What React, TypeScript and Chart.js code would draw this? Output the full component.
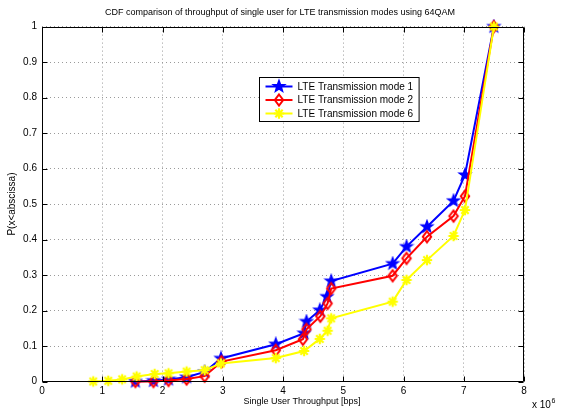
import React, { useEffect, useRef } from 'react';
import { Chart, registerables } from 'chart.js';

Chart.register(...registerables);

const FONT = '"Liberation Sans", Arial, Helvetica, sans-serif';

const titleText = 'CDF comparison of throughput of single user for LTE transmission modes using 64QAM';
const xAxisTitle = 'Single User Throughput [bps]';
const yAxisTitle = 'P(x<abscissa)';
const xScaleNote = 'x 10';
const xScaleExp = '6';
const seriesNames = ['LTE Transmission mode 1', 'LTE Transmission mode 2', 'LTE Transmission mode 6'];
const seriesColors = ['#0000ff', '#ff0000', '#ffff00'];

const xTickLabels = ['0', '1', '2', '3', '4', '5', '6', '7', '8'];
const yTickLabels = ['0', '0.1', '0.2', '0.3', '0.4', '0.5', '0.6', '0.7', '0.8', '0.9', '1'];

// throughput in units of 10^6 bps
const mode1X = [1.55, 1.85, 2.1, 2.4, 2.7, 2.97, 3.88, 4.35, 4.39, 4.61, 4.73, 4.8, 5.82, 6.05, 6.39, 6.83, 7.02, 7.5];
const mode1Y = [0, 0.002, 0.006, 0.012, 0.027, 0.065, 0.105, 0.136, 0.169, 0.201, 0.239, 0.283, 0.332, 0.38, 0.436, 0.509, 0.582, 1];

const mode2X = [1.55, 1.85, 2.1, 2.4, 2.7, 2.98, 3.88, 4.33, 4.39, 4.62, 4.74, 4.8, 5.82, 6.05, 6.39, 6.83, 7.02, 7.5];
const mode2Y = [0, 0, 0.003, 0.007, 0.015, 0.056, 0.088, 0.119, 0.147, 0.184, 0.22, 0.262, 0.298, 0.347, 0.408, 0.466, 0.522, 1];

const mode6X = [0.85, 1.1, 1.33, 1.57, 1.87, 2.1, 2.4, 2.7, 2.97, 3.88, 4.35, 4.61, 4.74, 4.8, 5.82, 6.05, 6.39, 6.83, 7.02, 7.5];
const mode6Y = [0, 0.002, 0.006, 0.014, 0.021, 0.023, 0.028, 0.032, 0.051, 0.066, 0.086, 0.12, 0.143, 0.178, 0.225, 0.286, 0.342, 0.41, 0.483, 1];

type Painter = (g: CanvasRenderingContext2D, cx: number, cy: number) => void;

const paintStar: Painter = (g, cx, cy) => {
  const R = 6;
  const r = 2.5;
  g.beginPath();
  for (let i = 0; i < 10; i++) {
    const ang = -Math.PI / 2 + (i * Math.PI) / 5;
    const rad = i % 2 === 0 ? R : r;
    const px = cx + rad * Math.cos(ang);
    const py = cy + rad * Math.sin(ang);
    if (i === 0) g.moveTo(px, py);
    else g.lineTo(px, py);
  }
  g.closePath();
  g.fillStyle = seriesColors[0];
  g.fill();
  g.strokeStyle = seriesColors[0];
  g.lineWidth = 1.5;
  g.lineJoin = 'miter';
  g.stroke();
};

const paintDiamond: Painter = (g, cx, cy) => {
  g.beginPath();
  g.moveTo(cx, cy - 5.5);
  g.lineTo(cx + 4.2, cy);
  g.lineTo(cx, cy + 5.5);
  g.lineTo(cx - 4.2, cy);
  g.closePath();
  g.strokeStyle = seriesColors[1];
  g.lineWidth = 2;
  g.stroke();
};

const paintAsterisk: Painter = (g, cx, cy) => {
  const R = 5.2;
  g.strokeStyle = seriesColors[2];
  g.lineWidth = 2.2;
  g.lineCap = 'butt';
  g.beginPath();
  for (let k = 0; k < 4; k++) {
    const ang = (k * Math.PI) / 4;
    g.moveTo(cx - R * Math.cos(ang), cy - R * Math.sin(ang));
    g.lineTo(cx + R * Math.cos(ang), cy + R * Math.sin(ang));
  }
  g.stroke();
};

const painters: Painter[] = [paintStar, paintDiamond, paintAsterisk];

function makeMarker(p: Painter): HTMLCanvasElement {
  const c = document.createElement('canvas');
  c.width = 16;
  c.height = 16;
  const g = c.getContext('2d') as CanvasRenderingContext2D;
  p(g, 8, 8);
  return c;
}

const framePlugin = {
  id: 'matlabFrame',
  afterDatasetsDraw(chart: any) {
    const { ctx, chartArea: a, scales } = chart;
    ctx.save();
    const L = Math.round(a.left) + 0.5;
    const R = Math.round(a.right) - 0.5;
    const T = Math.round(a.top) + 0.5;
    const B = Math.round(a.bottom) - 0.5;
    ctx.strokeStyle = '#000';
    ctx.lineWidth = 1;
    ctx.setLineDash([]);
    ctx.beginPath();
    ctx.rect(L, T, R - L, B - T);
    ctx.stroke();
    // inward ticks on all four sides
    const tl = 5;
    ctx.beginPath();
    scales.x.ticks.forEach((t: any) => {
      const px = Math.round(scales.x.getPixelForValue(t.value)) + 0.5;
      ctx.moveTo(px, B);
      ctx.lineTo(px, B - tl);
      ctx.moveTo(px, T);
      ctx.lineTo(px, T + tl);
    });
    scales.y.ticks.forEach((t: any) => {
      const py = Math.round(scales.y.getPixelForValue(t.value)) + 0.5;
      ctx.moveTo(L, py);
      ctx.lineTo(L + tl, py);
      ctx.moveTo(R, py);
      ctx.lineTo(R - tl, py);
    });
    ctx.stroke();

    ctx.fillStyle = '#000';
    ctx.textAlign = 'center';
    ctx.textBaseline = 'middle';
    // title
    ctx.font = '9px ' + FONT;
    ctx.fillText(titleText, (a.left + a.right) / 2 - 3, a.top - 14);
    // x-axis label
    ctx.fillText(xAxisTitle, (a.left + a.right) / 2 + 19, a.bottom + 20);

    // exponent note
    ctx.font = '10px ' + FONT;
    ctx.textBaseline = 'alphabetic';
    ctx.textAlign = 'left';
    const nx = a.right + 8;
    const ny = a.bottom + 26;
    ctx.fillText(xScaleNote, nx, ny);
    const w = ctx.measureText(xScaleNote).width;
    ctx.font = '7px ' + FONT;
    ctx.fillText(xScaleExp, nx + w + 0.5, ny - 5);

    // legend
    ctx.font = '10px ' + FONT;
    const lx = Math.round(a.left + 217) + 0.5;
    const ly = Math.round(a.top + 50) + 0.5;
    let tw = 0;
    seriesNames.forEach((n) => {
      tw = Math.max(tw, ctx.measureText(n).width);
    });
    const bw = 38 + tw + 6;
    const bh = 44;
    ctx.fillStyle = '#fff';
    ctx.fillRect(lx, ly, bw, bh);
    ctx.strokeStyle = '#000';
    ctx.lineWidth = 1;
    ctx.strokeRect(lx, ly, bw, bh);
    seriesNames.forEach((n, i) => {
      const ry = ly + 9 + i * 13.5;
      ctx.strokeStyle = seriesColors[i];
      ctx.lineWidth = 2;
      ctx.beginPath();
      ctx.moveTo(lx + 6, ry);
      ctx.lineTo(lx + 33, ry);
      ctx.stroke();
      painters[i](ctx, lx + 19.5, ry);
      ctx.fillStyle = '#000';
      ctx.font = '10px ' + FONT;
      ctx.textAlign = 'left';
      ctx.textBaseline = 'middle';
      ctx.fillText(n, lx + 38, ry + 0.5);
    });
    ctx.restore();
  },
};

export default function App() {
  const ref = useRef<HTMLCanvasElement | null>(null);

  useEffect(() => {
    if (!ref.current) return;
    const markers = painters.map(makeMarker);
    const xs = [mode1X, mode2X, mode6X];
    const ys = [mode1Y, mode2Y, mode6Y];
    const datasets = seriesNames.map((name, i) => ({
      label: name,
      data: xs[i].map((x, j) => ({ x, y: ys[i][j] })),
      borderColor: seriesColors[i],
      backgroundColor: seriesColors[i],
      borderWidth: 2,
      pointStyle: markers[i] as any,
      pointRadius: 6,
      tension: 0,
      clip: false as any,
      order: 3 - i,
    }));
    const tickFont = { family: FONT, size: 10 };
    const chart = new Chart(ref.current, {
      type: 'line',
      data: { datasets },
      options: {
        animation: false,
        responsive: false,
        maintainAspectRatio: false,
        layout: { padding: { top: 26.6, right: 42, bottom: 0, left: 0 } },
        plugins: {
          legend: { display: false },
          tooltip: { enabled: false },
          title: { display: false },
        },
        scales: {
          x: {
            type: 'linear',
            min: 0,
            max: 8,
            afterFit: (s: any) => {
              s.height = 27.5;
            },
            ticks: {
              stepSize: 1,
              autoSkip: false,
              maxRotation: 0,
              color: '#000',
              font: tickFont,
              padding: 4,
              callback: (_v: any, i: number) => xTickLabels[i],
            },
            grid: { color: '#9a9a9a', drawTicks: false, lineWidth: 1 },
            border: { display: false, dash: [1, 3] },
          },
          y: {
            type: 'linear',
            min: 0,
            max: 1,
            afterFit: (s: any) => {
              s.width = 42;
            },
            ticks: {
              stepSize: 0.1,
              autoSkip: false,
              color: '#000',
              font: tickFont,
              padding: 5,
              callback: (_v: any, i: number) => yTickLabels[i],
            },
            grid: { color: '#9a9a9a', drawTicks: false, lineWidth: 1 },
            border: { display: false, dash: [1, 3] },
            title: {
              display: true,
              text: yAxisTitle,
              color: '#000',
              font: tickFont,
              padding: { top: 6, bottom: 0 },
            },
          },
        },
      },
      plugins: [framePlugin],
    });
    return () => chart.destroy();
  }, []);

  return (
    <div style={{ position: 'absolute', left: 0, top: 0, width: 566, height: 409, background: '#fff' }}>
      <canvas ref={ref} width={566} height={409} style={{ display: 'block', width: 566, height: 409 }} />
    </div>
  );
}
